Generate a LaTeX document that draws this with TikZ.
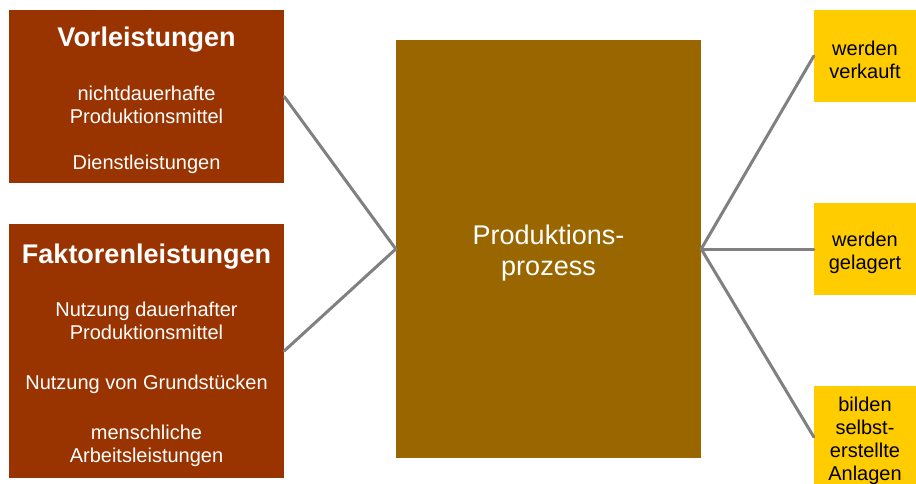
\documentclass[tikz,border=0pt]{standalone}
\usepackage{fontspec}
\setmainfont{Liberation Sans}
\usepackage{xcolor}
\definecolor{inputcol}{HTML}{993300}
\definecolor{prozesscol}{HTML}{996600}
\definecolor{outputcol}{HTML}{FFCC00}
\definecolor{linkcol}{HTML}{808080}
\newcommand{\lowtext}[1]{\rule{0pt}{#1}}

\begin{document}
\begin{tikzpicture}[x=1pt, y=-1pt,
		inbox/.style={rectangle, fill=inputcol, text=white, align=center, inner sep=0pt, minimum width=275pt, font=\fontsize{20}{23}\selectfont},
		outbox/.style={rectangle, fill=outputcol, text=black, align=center, inner sep=0pt, minimum width=102pt, font=\fontsize{20}{23}\selectfont},
		link/.style={draw=linkcol, line width=3pt, line cap=round}]
		\useasboundingbox (0, 0) rectangle (916, 484);
		\coordinate (vorlpos) at (146.5, 96.5);
		\coordinate (faktorpos) at (146.5, 351);
		\coordinate (prozesspos) at (548.5, 249);
		\coordinate (verkauftpos) at (865, 56);
		\coordinate (gelagertpos) at (865, 249);
		\coordinate (anlagenpos) at (865, 437);
		\draw node (vorleist) at (vorlpos) [inbox, minimum height=173pt] {\lowtext{28pt}{\fontsize{27}{31}\selectfont\bfseries Vorleistungen}\\[31pt]nichtdauerhafte\\Produktionsmittel\\[23pt]Dienstleistungen}
		node (faktor) at (faktorpos) [inbox, minimum height=254pt] {\lowtext{28pt}{\fontsize{27}{31}\selectfont\bfseries Faktorenleistungen}\\[30pt]Nutzung dauerhafter\\Produktionsmittel\\[27pt]Nutzung von Grundstücken\\[27pt]menschliche\\Arbeitsleistungen}
		node (prozess) at (prozesspos) [rectangle, fill=prozesscol, text=white, align=center, inner sep=0pt, minimum width=305pt, minimum height=418pt, font=\fontsize{27}{31}\selectfont] {\lowtext{28pt}Produktions-\\prozess}
		node (verkauft) at (verkauftpos) [outbox, minimum height=92pt] {\lowtext{22pt}werden\\verkauft}
		node (gelagert) at (gelagertpos) [outbox, minimum height=92pt] {\lowtext{22pt}werden\\gelagert}
		node (anlagen) at (anlagenpos) [outbox, minimum height=102pt] {\lowtext{22pt}bilden\\selbst-\\erstellte\\Anlagen};
		\draw[link] (vorleist.east) -- (prozess.west) -- (faktor.east);
		\draw[link] (verkauft.west) -- (prozess.east) -- (anlagen.west);
		\draw[link] (prozess.east) -- (gelagert.west);
	\end{tikzpicture}
\end{document}
